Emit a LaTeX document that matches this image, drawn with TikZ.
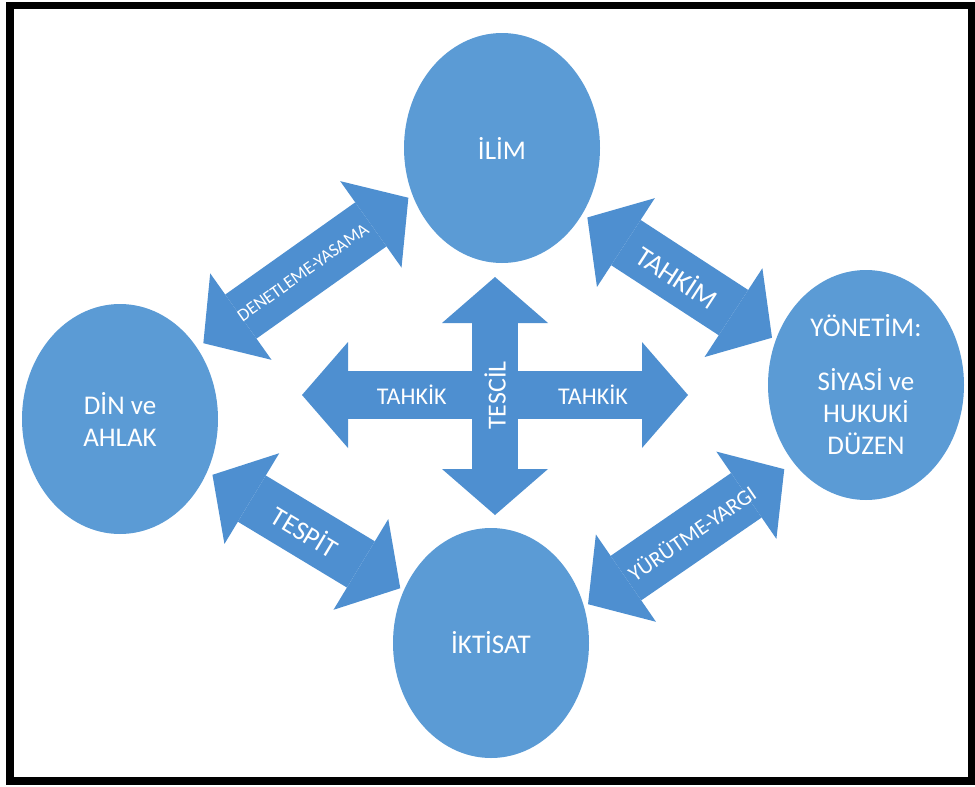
\documentclass[tikz,border=0pt]{standalone}
\usepackage{fontspec}
\setmainfont{Carlito}
\usetikzlibrary{arrows.meta,shapes.geometric}
\definecolor{circblue}{HTML}{5B9BD5}
\definecolor{arrowblue}{HTML}{4E8FD0}
\begin{document}
\begin{tikzpicture}[x=0.5pt, y=-0.5pt,
    topic/.style = {ellipse, fill=circblue, text=white, inner sep=0pt,
        minimum width=98pt, minimum height=115pt, align=center,
        font=\fontsize{13.5}{16}\selectfont},
    link/.style = {draw=arrowblue, line width=27pt,
        {Triangle[length=23pt,width=53pt,line width=0pt]}-{Triangle[length=23pt,width=53pt,line width=0pt]}},
    tag/.style = {text=white, inner sep=0pt}]
  \useasboundingbox (0,0) rectangle (975,787);
  \draw[line width=3.6pt] (10,5.5) rectangle (972,781);

  \node[topic] (ilim) at (502,148) {İLİM};
  \node[topic] (din) at (120,419) {DİN ve\\AHLAK};
  \node[topic] (yonetim) at (866,385) {YÖNETİM:\\[11pt]SİYASİ ve\\HUKUKİ\\DÜZEN};
  \node[topic] (iktisat) at (491,643) {İKTİSAT};
  \coordinate (mid) at (495,395);

  % diagonal links
  \draw[link, shorten <=52.5pt, shorten >=56pt] ([shift={(-8,-11)}]ilim.center) -- node[tag, sloped, font=\fontsize{9}{10}\selectfont] {DENETLEME-YASAMA} ([shift={(-8,-11)}]din.center);
  \draw[link, shorten <=54.5pt, shorten >=52.5pt] ([shift={(-6,10)}]ilim.center) -- node[tag, sloped, font=\fontsize{14}{16}\selectfont] {TAHKİM} ([shift={(-6,10)}]yonetim.center);
  \draw[link, shorten <=54pt, shorten >=53pt] (din.center) -- node[tag, sloped, font=\fontsize{13.5}{16}\selectfont] {TESPİT} (iktisat.center);
  \draw[link, shorten <=51pt, shorten >=57.5pt] ([shift={(13,19)}]iktisat.center) -- node[tag, sloped, font=\fontsize{11}{13}\selectfont] {YÜRÜTME-YARGI} ([shift={(13,19)}]yonetim.center);

  % central cross
  \draw[link, line width=24pt, shorten <=91pt, shorten >=89pt] (din.center |- mid) -- node[tag, pos=0.391, font=\fontsize{12}{14}\selectfont] {TAHKİK} node[tag, pos=0.634, font=\fontsize{12}{14}\selectfont] {TAHKİK} (yonetim.center |- mid);
  \draw[link, line width=23pt, shorten <=64.5pt, shorten >=64pt] (ilim.center -| mid) -- node[tag, pos=0.5, rotate=90, font=\fontsize{13}{15}\selectfont] {TESCİL} (iktisat.center -| mid);
\end{tikzpicture}
\end{document}
